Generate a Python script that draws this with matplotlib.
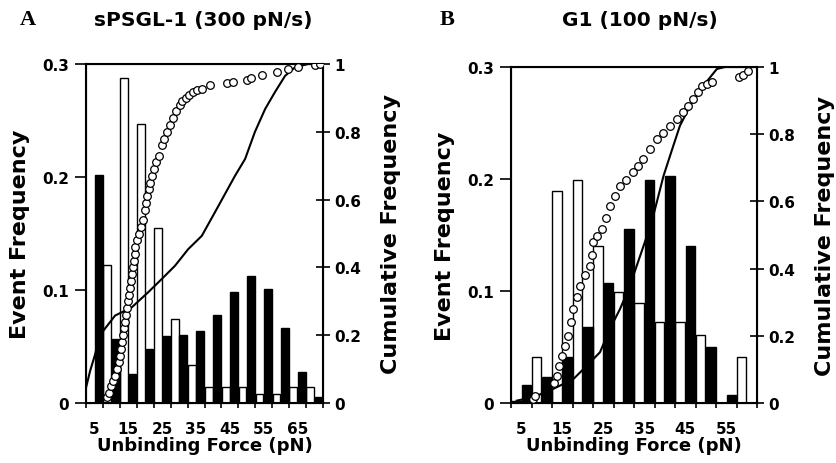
import numpy as np
import matplotlib
matplotlib.use("Agg")
import matplotlib.pyplot as plt

plt.rcParams['font.family'] = 'DejaVu Sans'
plt.rcParams['font.weight'] = 'bold'

# Panel A: sPSGL-1 (300 pN/s)
a_bins = [5, 10, 15, 20, 25, 30, 35, 40, 45, 50, 55, 60, 65, 70]
a_white = [0.0, 0.122, 0.288, 0.247, 0.155, 0.074, 0.034, 0.014, 0.014, 0.014, 0.008, 0.008, 0.014, 0.014]
a_black = [0.202, 0.057, 0.026, 0.048, 0.059, 0.060, 0.064, 0.078, 0.098, 0.112, 0.101, 0.066, 0.027, 0.005]

a_circ_f = [8.6, 9.3, 10.0, 10.6, 11.1, 11.6, 12.1, 12.5, 12.9, 13.2, 13.5, 13.8, 14.1, 14.4,
            14.6, 14.9, 15.2, 15.5, 15.8, 16.1, 16.5, 16.7, 16.9, 17.1, 17.6, 18.2, 18.8, 19.3,
            19.8, 20.2, 20.6, 21.0, 21.4, 21.9, 22.6, 23.3, 24.0, 24.8, 25.6, 26.3, 27.2, 28.2,
            29.2, 30.2, 31.0, 32.0, 32.9, 34.0, 35.2, 36.7, 39.1, 44.0, 46.0, 50.0, 51.2, 54.4,
            58.8, 62.3, 65.2, 70.1, 71.6]
a_circ_c = [0.018, 0.03, 0.05, 0.065, 0.08, 0.10, 0.12, 0.14, 0.16, 0.18, 0.20, 0.22, 0.24, 0.26,
            0.28, 0.30, 0.32, 0.34, 0.36, 0.38, 0.40, 0.42, 0.44, 0.46, 0.48, 0.50, 0.52, 0.54,
            0.57, 0.59, 0.61, 0.63, 0.65, 0.67, 0.69, 0.71, 0.73, 0.76, 0.78, 0.80, 0.82, 0.84,
            0.86, 0.88, 0.89, 0.90, 0.91, 0.917, 0.922, 0.926, 0.938, 0.944, 0.948, 0.953, 0.958, 0.968,
            0.976, 0.985, 0.99, 0.998, 1.0]

a_line_f = [2.5, 3.7, 5.2, 6.6, 11.1, 16.0, 20.9, 24.9, 28.8, 32.7, 36.7, 40.6, 46.5, 49.5,
            52.4, 55.4, 58.3, 61.3, 64.2, 68.1, 71.8]
a_line_c = [0.045, 0.094, 0.144, 0.20, 0.258, 0.282, 0.327, 0.366, 0.405, 0.454, 0.493, 0.563, 0.67, 0.72,
            0.80, 0.867, 0.917, 0.965, 0.99, 1.0, 1.0]

# Panel B: G1 (100 pN/s)
b_bins = [5, 10, 15, 20, 25, 30, 35, 40, 45, 50, 55, 60]
b_white = [0.002, 0.041, 0.189, 0.199, 0.140, 0.099, 0.089, 0.072, 0.072, 0.061, 0.0, 0.041]
b_black = [0.016, 0.023, 0.041, 0.068, 0.107, 0.155, 0.199, 0.203, 0.140, 0.050, 0.007, 0.0]

b_circ_f = [7.9, 8.4, 13.0, 13.6, 14.2, 14.9, 15.6, 16.5, 17.1, 17.7, 18.5, 19.3, 20.5, 21.8,
            22.2, 22.6, 23.4, 24.6, 25.6, 26.6, 27.8, 29.1, 30.6, 32.3, 33.5, 34.8, 36.4, 38.0,
            39.6, 41.3, 42.9, 44.5, 45.7, 47.0, 48.0, 49.0, 50.2, 51.5, 58.0, 59.0, 60.4]
b_circ_c = [0.012, 0.02, 0.06, 0.081, 0.11, 0.141, 0.17, 0.20, 0.24, 0.28, 0.315, 0.349, 0.38, 0.409,
            0.44, 0.478, 0.498, 0.518, 0.55, 0.587, 0.615, 0.647, 0.665, 0.687, 0.705, 0.726, 0.756, 0.786,
            0.805, 0.825, 0.845, 0.865, 0.885, 0.905, 0.925, 0.944, 0.95, 0.954, 0.969, 0.975, 0.989]

b_line_f = [3.9, 7.9, 12.8, 17.7, 21.8, 24.2, 26.6, 29.1, 31.5, 34.0, 36.8, 39.7, 42.1, 43.7,
            46.2, 49.4, 52.7, 54.7, 62.5]
b_line_c = [0.007, 0.017, 0.042, 0.071, 0.121, 0.151, 0.22, 0.28, 0.349, 0.438, 0.538, 0.676, 0.766, 0.825,
            0.885, 0.944, 0.994, 1.0, 1.0]

W, H = 836, 464
fig = plt.figure(figsize=(W / 100, H / 100), dpi=100)


def panel(box, bins, white, black, cf, cc, lf, lc, xmax, letter, letter_x, title, title_x):
    ax = fig.add_axes(box)
    bins = np.array(bins)
    ax.bar(bins - 1.25, white, width=2.3, color='white', edgecolor='black', linewidth=1.0, zorder=2)
    ax.bar(bins + 1.25, black, width=2.3, color='black', edgecolor='black', linewidth=1.0, zorder=2)
    ax.set_xlim(2.5, xmax)
    ax.set_ylim(0, 0.3)
    ax.set_yticks([0, 0.1, 0.2, 0.3])
    ax.set_yticklabels(['0', '0.1', '0.2', '0.3'])
    ax.set_xticks(np.arange(2.5, xmax + 0.1, 5))
    ax.set_xticklabels([])
    labs = np.arange(5, xmax - 2, 10)
    ax.set_xticks(labs, minor=True)
    ax.set_xticklabels([str(int(v)) for v in labs], minor=True)
    ax.tick_params(axis='x', which='major', direction='inout', length=7, width=1.2)
    ax.tick_params(axis='x', which='minor', length=0, pad=13, labelsize=11)
    ax.tick_params(axis='y', direction='out', length=8, width=1.2, labelsize=11, pad=4)
    for s in ax.spines.values():
        s.set_linewidth(1.5)
    ax.set_xlabel('Unbinding Force (pN)', fontsize=13, fontweight='bold', labelpad=0)
    ax.set_ylabel('Event Frequency', fontsize=16, fontweight='bold', labelpad=9)

    ax2 = ax.twinx()
    ax2.set_ylim(0, 1)
    ax2.set_yticks([0, 0.2, 0.4, 0.6, 0.8, 1.0])
    ax2.set_yticklabels(['0', '0.2', '0.4', '0.6', '0.8', '1'])
    ax2.tick_params(axis='y', direction='inout', length=10, width=1.2, labelsize=11, pad=3)
    ax2.plot(lf, lc, color='black', linewidth=1.5, zorder=3)
    ax2.plot(cf, cc, linestyle='none', marker='o', markersize=5.5, markerfacecolor='white',
             markeredgecolor='black', markeredgewidth=0.9, zorder=4)
    ax2.set_ylabel('Cumulative Frequency', fontsize=16, fontweight='bold', labelpad=14)
    ax2.set_xlim(2.5, xmax)

    fig.text(letter_x, 1 - 20 / H, letter, family='Liberation Serif', fontweight='bold',
             fontsize=16, ha='left', va='center')
    fig.text(title_x, 1 - 20 / H, title, fontsize=14.5, fontweight='bold', ha='center', va='center')


panel([86 / W, 60 / H, 237 / W, 339 / H], a_bins, a_white, a_black,
      a_circ_f, a_circ_c, a_line_f, a_line_c, 72.5, 'A', 20 / W, 'sPSGL-1 (300 pN/s)', 203 / W)
panel([511 / W, 60 / H, 246 / W, 336 / H], b_bins, b_white, b_black,
      b_circ_f, b_circ_c, b_line_f, b_line_c, 62.5, 'B', 440 / W, 'G1 (100 pN/s)', 640 / W)

fig.savefig('out.png', dpi=100)
